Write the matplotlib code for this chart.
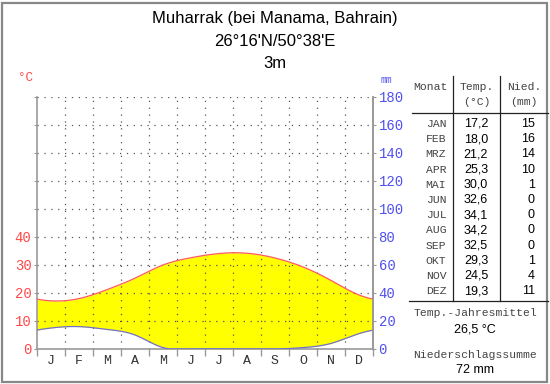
import numpy as np
from matplotlib import pyplot as plt
from matplotlib.lines import Line2D
from matplotlib.patches import Rectangle

# Klimadaten Muharrak
monate = ['J', 'F', 'M', 'A', 'M', 'J', 'J', 'A', 'S', 'O', 'N', 'D']
monat_kurz = ['JAN', 'FEB', 'MRZ', 'APR', 'MAI', 'JUN', 'JUL', 'AUG', 'SEP', 'OKT', 'NOV', 'DEZ']
temp = [17.2, 18.0, 21.2, 25.3, 30.0, 32.6, 34.1, 34.2, 32.5, 29.3, 24.5, 19.3]
nied = [15, 16, 14, 10, 1, 0, 0, 0, 0, 1, 4, 11]
titel = ['Muharrak (bei Manama, Bahrain)', "26°16'N/50°38'E", '3m']
jahresmittel = '26,5 °C'
summe = '72 mm'

W, H = 550, 384
RED = '#ff4848'
BLUE = '#5050f0'
GREY = '#999999'
MONO = 'Liberation Mono'
SANS = 'Liberation Sans'


def periodic_spline(y, n=400):
    # periodic cubic spline through monthly values at month centres
    y = np.asarray(y, float)
    m = len(y)
    A = np.zeros((m, m))
    for i in range(m):
        A[i, i] = 4
        A[i, (i - 1) % m] = 1
        A[i, (i + 1) % m] = 1
    rhs = 6 * (np.roll(y, -1) - 2 * y + np.roll(y, 1))
    M = np.linalg.solve(A, rhs)
    xs = np.linspace(0, m, n)
    t = xs - 0.5
    i = np.floor(t).astype(int)
    u = t - i
    i0 = i % m
    i1 = (i + 1) % m
    ys = ((1 - u) * y[i0] + u * y[i1]
          + ((1 - u) ** 3 - (1 - u)) * M[i0] / 6 + (u ** 3 - u) * M[i1] / 6)
    return xs, ys


def px(x, y):
    return x / W, 1 - y / H


fig = plt.figure(figsize=(5.5, 3.84), dpi=100)
fig.patch.set_facecolor('white')

ax = fig.add_axes([37 / W, 1 - 349 / H, 336 / W, 252 / H])
ax.set_xlim(0, 12)
ax.set_ylim(0, 90)

xs, ts = periodic_spline(temp)
_, ps = periodic_spline(np.array(nied) / 2)
ps = np.clip(ps, 0, None)
ax.fill_between(xs, ps, ts, where=ts >= ps, color='#ffff00', lw=0, zorder=1)
ax.plot(xs, ts, color='#ff5a5a', lw=0.9, zorder=3)
ax.plot(xs, ps, color='#7070d0', lw=0.9, zorder=3)

# Gitter
for k in range(1, 12):
    ax.axvline(k, color='#555555', lw=0.9, ls=(0, (1, 4.5)), zorder=2)
for v in range(10, 100, 10):
    ax.axhline(v, color='#555555', lw=0.9, ls=(0, (1, 4.5)), zorder=2)

ax.spines['top'].set_visible(False)
for s in ['left', 'right', 'bottom']:
    ax.spines[s].set_color(GREY)
    ax.spines[s].set_linewidth(1.2)

ax.set_xticks(range(13))
ax.set_xticklabels([])
ax.set_xticks(np.arange(12) + 0.5, minor=True)
ax.set_xticklabels(monate, minor=True, fontfamily=MONO, fontsize=9.5, color='#333333')
ax.tick_params(axis='x', which='major', length=5, color=GREY, width=1)
ax.tick_params(axis='x', which='minor', length=0, pad=4)

ax.set_yticks(range(0, 100, 10))
ax.set_yticklabels([str(v) if v <= 40 else '' for v in range(0, 100, 10)],
                   fontfamily=MONO, fontsize=10, color=RED)
ax.tick_params(axis='y', length=2, color=GREY, pad=2)

ax2 = ax.twinx()
ax2.set_ylim(0, 180)
ax2.set_yticks(range(0, 200, 20))
ax2.set_yticklabels([str(v) for v in range(0, 200, 20)],
                    fontfamily=MONO, fontsize=10, color=BLUE)
ax2.tick_params(axis='y', length=2, color=GREY, pad=2)
for s in ['top', 'left', 'bottom']:
    ax2.spines[s].set_visible(False)
ax2.spines['right'].set_color(GREY)
ax2.spines['right'].set_linewidth(1.2)

fig.text(*px(25, 78), '°C', color=RED, fontfamily=MONO, fontsize=9, ha='center', va='center')
fig.text(*px(386, 80), 'mm', color=BLUE, fontfamily=MONO, fontsize=7, ha='center', va='center')

# Titel
for t, y in zip(titel, [18, 41, 63]):
    fig.text(*px(275, y), t, fontfamily=SANS, fontsize=12, ha='center', va='center')

# Tabelle
tc = '#444444'
fs = 8.2
fig.text(*px(430, 87), 'Monat', fontfamily=MONO, fontsize=fs, color=tc, ha='center', va='center')
fig.text(*px(477, 87), 'Temp.', fontfamily=MONO, fontsize=fs, color=tc, ha='center', va='center')
fig.text(*px(477, 102), '(°C)', fontfamily=MONO, fontsize=fs, color=tc, ha='center', va='center')
fig.text(*px(524, 87), 'Nied.', fontfamily=MONO, fontsize=fs, color=tc, ha='center', va='center')
fig.text(*px(524, 102), '(mm)', fontfamily=MONO, fontsize=fs, color=tc, ha='center', va='center')
for k in range(12):
    y = 124 + k * 15.2
    fig.text(*px(436, y), monat_kurz[k], fontfamily=MONO, fontsize=fs, color=tc, ha='center', va='center')
    fig.text(*px(476, y), f'{temp[k]:.1f}'.replace('.', ','), fontfamily=SANS, fontsize=9, ha='center', va='center')
    fig.text(*px(535, y), str(nied[k]), fontfamily=SANS, fontsize=9, ha='right', va='center')

fig.text(*px(475, 313), 'Temp.-Jahresmittel', fontfamily=MONO, fontsize=fs, color=tc, ha='center', va='center')
fig.text(*px(475, 330), jahresmittel, fontfamily=SANS, fontsize=9, ha='center', va='center')
fig.text(*px(475, 355), 'Niederschlagssumme', fontfamily=MONO, fontsize=fs, color=tc, ha='center', va='center')
fig.text(*px(475, 370), summe, fontfamily=SANS, fontsize=9, ha='center', va='center')

lc = '#222222'
fig.add_artist(Line2D([px(412, 0)[0], px(548, 0)[0]], [px(0, 113)[1]] * 2, color=lc, lw=0.9))
fig.add_artist(Line2D([px(409, 0)[0], px(548, 0)[0]], [px(0, 301)[1]] * 2, color=lc, lw=0.9))
for xv in [453, 500]:
    fig.add_artist(Line2D([px(xv, 0)[0]] * 2, [px(0, 76)[1], px(0, 301)[1]], color=lc, lw=0.9))

# Rahmen
fig.add_artist(Rectangle((2 / W, 2 / H), 545 / W, 379 / H, transform=fig.transFigure,
                         fill=False, edgecolor='#888888', lw=1.6))

fig.savefig('out.png', dpi=100)
